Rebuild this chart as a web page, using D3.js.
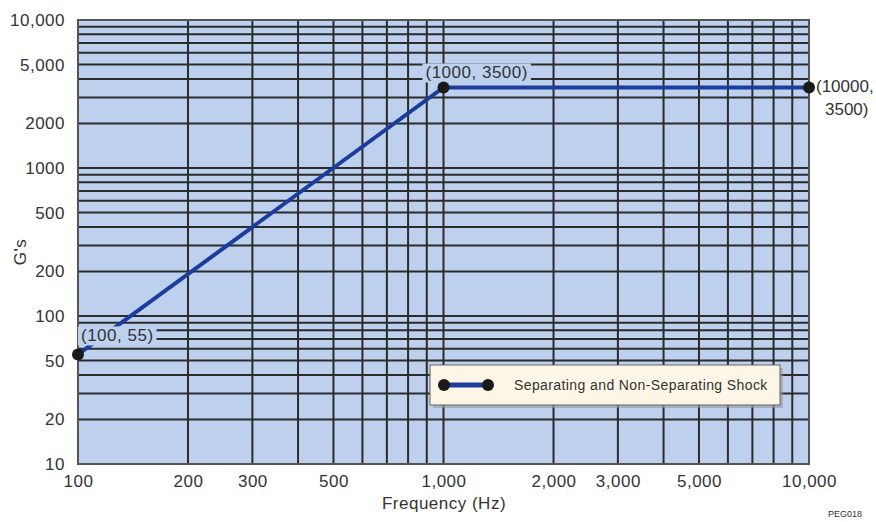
<!DOCTYPE html>
<html>
<head>
<meta charset="utf-8">
<script src="https://cdn.jsdelivr.net/npm/d3@7"></script>
<style>
  body { margin: 0; background: #fff; }
  text { font-family: "Liberation Sans", Arial, sans-serif; fill: #333; }
</style>
</head>
<body>
<div id="chart"></div>
<script>
// shock spectrum, log-log

var freq = [100, 1000, 10000];
var gees = [55, 3500, 3500];
var pointLabels = ['(100, 55)', '(1000, 3500)', '(10000,|3500)'];

var xTicks = [100, 200, 300, 500, 1000, 2000, 3000, 5000, 10000];
var xTickText = ['100', '200', '300', '500', '1,000', '2,000', '3,000', '5,000', '10,000'];
var yTicks = [10, 20, 50, 100, 200, 500, 1000, 2000, 5000, 10000];
var yTickText = ['10', '20', '50', '100', '200', '500', '1000', '2000', '5,000', '10,000'];

var legendText = 'Separating and Non-Separating Shock';

var width = 876, height = 522;
var m = { left: 78, right: 67, top: 20, bottom: 58 };
var plotBg = '#bdd0ee';
var fs = 17, ls = '0.5px';

var svg = d3.select('#chart').append('svg')
    .attr('width', width)
    .attr('height', height);

var x = d3.scaleLog().domain([100, 10000]).range([m.left, width - m.right]);
var y = d3.scaleLog().domain([10, 10000]).range([height - m.bottom, m.top]);

// grid values: every 1..9 of each decade
function minor(lo, hi) {
    var out = [];
    for (var p = lo; p < hi; p *= 10) {
        for (var k = 1; k <= 9; k++) out.push(p * k);
    }
    out.push(hi);
    return out;
}

svg.append('rect')
    .attr('x', x(100))
    .attr('y', y(10000))
    .attr('width', x(10000) - x(100))
    .attr('height', y(10) - y(10000))
    .attr('fill', plotBg);

var grid = svg.append('g');

grid.selectAll('line.v')
    .data(minor(100, 10000))
    .enter()
    .append('line')
    .attr('class', 'v')
    .attr('x1', function(d){ return x(d); })
    .attr('x2', function(d){ return x(d); })
    .attr('y1', y(10000))
    .attr('y2', y(10))
    .attr('stroke', '#2b2b2b')
    .attr('stroke-width', 2);

grid.selectAll('line.h')
    .data(minor(10, 10000))
    .enter()
    .append('line')
    .attr('class', 'h')
    .attr('x1', x(100))
    .attr('x2', x(10000))
    .attr('y1', function(d){ return y(d); })
    .attr('y2', function(d){ return y(d); })
    .attr('stroke', '#2b2b2b')
    .attr('stroke-width', 2);

// plot frame
svg.append('rect')
    .attr('x', x(100))
    .attr('y', y(10000))
    .attr('width', x(10000) - x(100))
    .attr('height', y(10) - y(10000))
    .attr('fill', 'none')
    .attr('stroke', '#555')
    .attr('stroke-width', 2);

// axes, tick text only
var xAxis = d3.axisBottom(x)
    .tickValues(xTicks)
    .tickFormat(function(d, i){ return xTickText[i]; })
    .tickSize(0)
    .tickPadding(11);

svg.append('g')
    .attr('transform', 'translate(0,' + y(10) + ')')
    .call(xAxis)
    .call(function(g){ g.select('.domain').remove(); })
    .selectAll('text')
    .attr('font-size', fs)
    .style('font-family', '"Liberation Sans", Arial, sans-serif')
    .style('letter-spacing', ls)
    .attr('fill', '#333');

var yAxis = d3.axisLeft(y)
    .tickValues(yTicks)
    .tickFormat(function(d, i){ return yTickText[i]; })
    .tickSize(0)
    .tickPadding(13);

svg.append('g')
    .attr('transform', 'translate(' + x(100) + ',0)')
    .call(yAxis)
    .call(function(g){ g.select('.domain').remove(); })
    .selectAll('text')
    .attr('font-size', fs)
    .style('font-family', '"Liberation Sans", Arial, sans-serif')
    .style('letter-spacing', ls)
    .attr('fill', '#333');

svg.append('text')
    .attr('x', 444)
    .attr('y', 509)
    .attr('text-anchor', 'middle')
    .attr('font-size', fs)
    .style('letter-spacing', ls)
    .text('Frequency (Hz)');

svg.append('text')
    .attr('transform', 'translate(26,252) rotate(-90)')
    .attr('text-anchor', 'middle')
    .attr('font-size', fs)
    .style('letter-spacing', ls)
    .text("G's");

svg.append('text')
    .attr('x', 862)
    .attr('y', 517)
    .attr('text-anchor', 'end')
    .attr('font-size', 9)
    .text('PEG018');

// data line
var pts = freq.map(function(d, i){ return [d, gees[i]]; });

svg.append('path')
    .datum(pts)
    .attr('d', d3.line().x(function(d){ return x(d[0]); }).y(function(d){ return y(d[1]); }))
    .attr('fill', 'none')
    .attr('stroke', '#1d3d9e')
    .attr('stroke-width', 4);

// point labels, boxed in the background colour
var labelPos = [
    { dx: 3, dy: -13, bg: plotBg, sp: ls },
    { dx: -18, dy: -9, bg: plotBg, sp: ls },
    { dx: 7, dy: 5, bg: null, sp: '0px' }
];

pts.forEach(function(p, i){
    var lp = labelPos[i];
    var lines = pointLabels[i].split('|');
    var g = svg.append('g')
        .attr('transform', 'translate(' + (x(p[0]) + lp.dx) + ',' + (y(p[1]) + lp.dy) + ')');
    var bg = g.append('rect').attr('fill', lp.bg || 'none');
    var t = g.append('text')
        .attr('font-size', fs)
        .style('letter-spacing', lp.sp);
    lines.forEach(function(s, j){
        t.append('tspan')
            .attr('x', j === 0 ? 0 : 9)
            .attr('dy', j === 0 ? 0 : 23)
            .text(s);
    });
    if (lp.bg) {
        var bb = t.node().getBBox();
        bg.attr('x', bb.x - 3).attr('y', bb.y)
            .attr('width', bb.width + 6).attr('height', bb.height);
    }
});

svg.selectAll('circle.pt')
    .data(pts)
    .enter()
    .append('circle')
    .attr('class', 'pt')
    .attr('cx', function(d){ return x(d[0]); })
    .attr('cy', function(d){ return y(d[1]); })
    .attr('r', 6)
    .attr('fill', '#1a1a1a');

// legend
var leg = svg.append('g').attr('transform', 'translate(430,365)');

leg.append('rect')
    .attr('x', 3).attr('y', 3)
    .attr('width', 350).attr('height', 40)
    .attr('fill', '#9a9a9a')
    .attr('opacity', 0.6);

leg.append('rect')
    .attr('width', 350).attr('height', 40)
    .attr('fill', '#fdf6e6')
    .attr('stroke', '#666')
    .attr('stroke-width', 1);

leg.append('line')
    .attr('x1', 14).attr('x2', 58)
    .attr('y1', 20).attr('y2', 20)
    .attr('stroke', '#1d3d9e')
    .attr('stroke-width', 5);

leg.selectAll('circle')
    .data([14, 58])
    .enter()
    .append('circle')
    .attr('cx', function(d){ return d; })
    .attr('cy', 20)
    .attr('r', 6)
    .attr('fill', '#1a1a1a');

leg.append('text')
    .attr('x', 84)
    .attr('y', 25)
    .attr('font-size', 14)
    .style('letter-spacing', '0.4px')
    .text(legendText);
</script>
</body>
</html>
